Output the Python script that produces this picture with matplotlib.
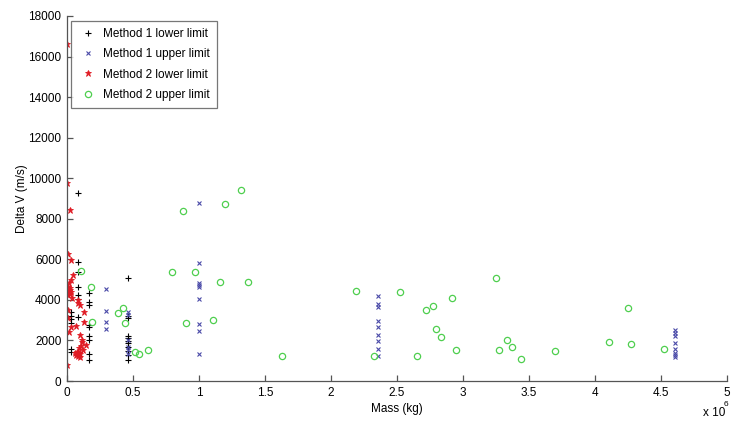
import matplotlib
matplotlib.use('Agg')
import matplotlib.pyplot as plt
from matplotlib.ticker import FuncFormatter, MultipleLocator

plt.rcParams['font.family'] = ['Liberation Sans', 'DejaVu Sans']

# Method 1 lower limit (mass in kg, delta V in m/s)
m1_lo_mass = [0.03e6] * 6 + [0.085e6] * 8 + [0.17e6] * 9 + [0.465e6] * 11
m1_lo_dv = [3390, 3220, 3050, 2840, 1560, 1410,
            9250, 5850, 5370, 4620, 4250, 4050, 3170, 1420,
            4320, 3910, 3730, 2780, 2650, 2220, 2040, 1350, 1030,
            5060, 3220, 3130, 2230, 2130, 1950, 1870, 1680, 1470, 1280, 1020]

# Method 1 upper limit
m1_hi_mass = ([0.293e6] * 4 + [0.465e6] * 6 + [1.0e6] * 9
              + [2.354e6] * 9 + [4.605e6] * 8)
m1_hi_dv = [4540, 3470, 2920, 2560,
            3390, 3280, 2000, 1700, 1520, 1340,
            8790, 5830, 4850, 4730, 4650, 4040, 2800, 2470, 1320,
            4180, 3800, 3660, 2960, 2680, 2270, 1970, 1560, 1250,
            2520, 2380, 2200, 1890, 1600, 1360, 1260, 1180]

# Method 2 lower limit
m2_lo_mass = [0.0, 0.003e6, 0.02e6, 0.008e6, 0.027e6, 0.045e6, 0.03e6, 0.015e6,
              0.01e6, 0.02e6, 0.025e6, 0.015e6, 0.03e6, 0.02e6, 0.01e6,
              0.08e6, 0.083e6, 0.098e6, 0.01e6, 0.13e6, 0.13e6, 0.065e6,
              0.03e6, 0.015e6, 0.098e6, 0.11e6, 0.115e6, 0.14e6, 0.09e6,
              0.105e6, 0.08e6, 0.06e6, 0.07e6, 0.085e6, 0.095e6, 0.1e6,
              0.075e6, 0.09e6, 0.0, 0.005e6, 0.04e6, 0.12e6]
m2_lo_dv = [16610, 9780, 8430, 6250, 5970, 5230, 4980, 4820,
            4650, 4600, 4500, 4450, 4400, 4300, 4250,
            3990, 3830, 3750, 3500, 3420, 2890, 2730,
            2680, 2430, 2270, 2020, 1910, 1780, 1650,
            1720, 1330, 1400, 1300, 1250, 1200, 1350,
            1450, 1380, 790, 3100, 4100, 1550]

# Method 2 upper limit
m2_hi_mass = [0.104e6, 0.18e6, 0.19e6, 0.384e6, 0.427e6, 0.44e6, 0.515e6,
              0.548e6, 0.616e6, 0.798e6, 0.878e6, 0.905e6, 0.97e6, 1.106e6,
              1.16e6, 1.2e6, 1.316e6, 1.374e6, 1.626e6, 2.187e6, 2.328e6,
              2.525e6, 2.649e6, 2.722e6, 2.775e6, 2.798e6, 2.836e6, 2.918e6,
              2.95e6, 3.25e6, 3.275e6, 3.336e6, 3.374e6, 3.442e6, 3.7e6,
              4.104e6, 4.253e6, 4.275e6, 4.525e6]
m2_hi_dv = [5440, 4650, 2890, 3340, 3580, 2840, 1410,
            1320, 1530, 5360, 8390, 2840, 5390, 3010,
            4900, 8730, 9420, 4870, 1220, 4440, 1220,
            4370, 1220, 3480, 3680, 2550, 2170, 4070,
            1530, 5060, 1530, 2000, 1660, 1100, 1490,
            1910, 3580, 1810, 1560]

fig = plt.figure(figsize=(7.35, 4.32), dpi=100)
ax = fig.add_axes([0.0912, 0.118, 0.898, 0.845])

ax.plot(m1_lo_mass, m1_lo_dv, '+', color='black', ms=5, mew=0.8,
        label='Method 1 lower limit')
ax.plot(m1_hi_mass, m1_hi_dv, 'x', color='#4a4aa8', ms=3.5, mew=0.8,
        label='Method 1 upper limit')
ax.plot(m2_lo_mass, m2_lo_dv, '*', color='#e01b24', ms=5, mew=0.6,
        label='Method 2 lower limit')
ax.plot(m2_hi_mass, m2_hi_dv, 'o', mfc='none', mec='#4fcf4f', ms=4.5,
        mew=0.9, label='Method 2 upper limit')

ax.set_xlim(0, 5e6)
ax.set_ylim(0, 18000)
ax.xaxis.set_major_locator(MultipleLocator(0.5e6))
ax.yaxis.set_major_locator(MultipleLocator(2000))
ax.xaxis.set_major_formatter(FuncFormatter(lambda v, p: '%g' % (v / 1e6)))

for s in ['top', 'right']:
    ax.spines[s].set_visible(False)
for s in ['left', 'bottom']:
    ax.spines[s].set_color('#555555')
    ax.spines[s].set_linewidth(0.9)
ax.tick_params(direction='in', length=4, width=0.9, color='#555555',
               labelsize=8.5, pad=4)

ax.set_xlabel('Mass (kg)', fontsize=8.5, labelpad=3)
ax.set_ylabel('Delta V (m/s)', fontsize=8.5, labelpad=0)

# axis multiplier under the last x tick label
fig.text(0.957, 1 - 413 / 432, 'x 10', fontsize=8.5, va='center')
fig.text(0.985, 1 - 404 / 432, '6', fontsize=6, va='center')

leg = ax.legend(loc='upper left', bbox_to_anchor=(0.003, 0.993),
                fontsize=8.5, frameon=True, fancybox=False, numpoints=1,
                handletextpad=0.5, borderpad=0.6, labelspacing=0.7,
                handlelength=1.6, borderaxespad=0.2)
leg.get_frame().set_edgecolor('#555555')
leg.get_frame().set_linewidth(0.9)

fig.savefig('out.png', dpi=100)
